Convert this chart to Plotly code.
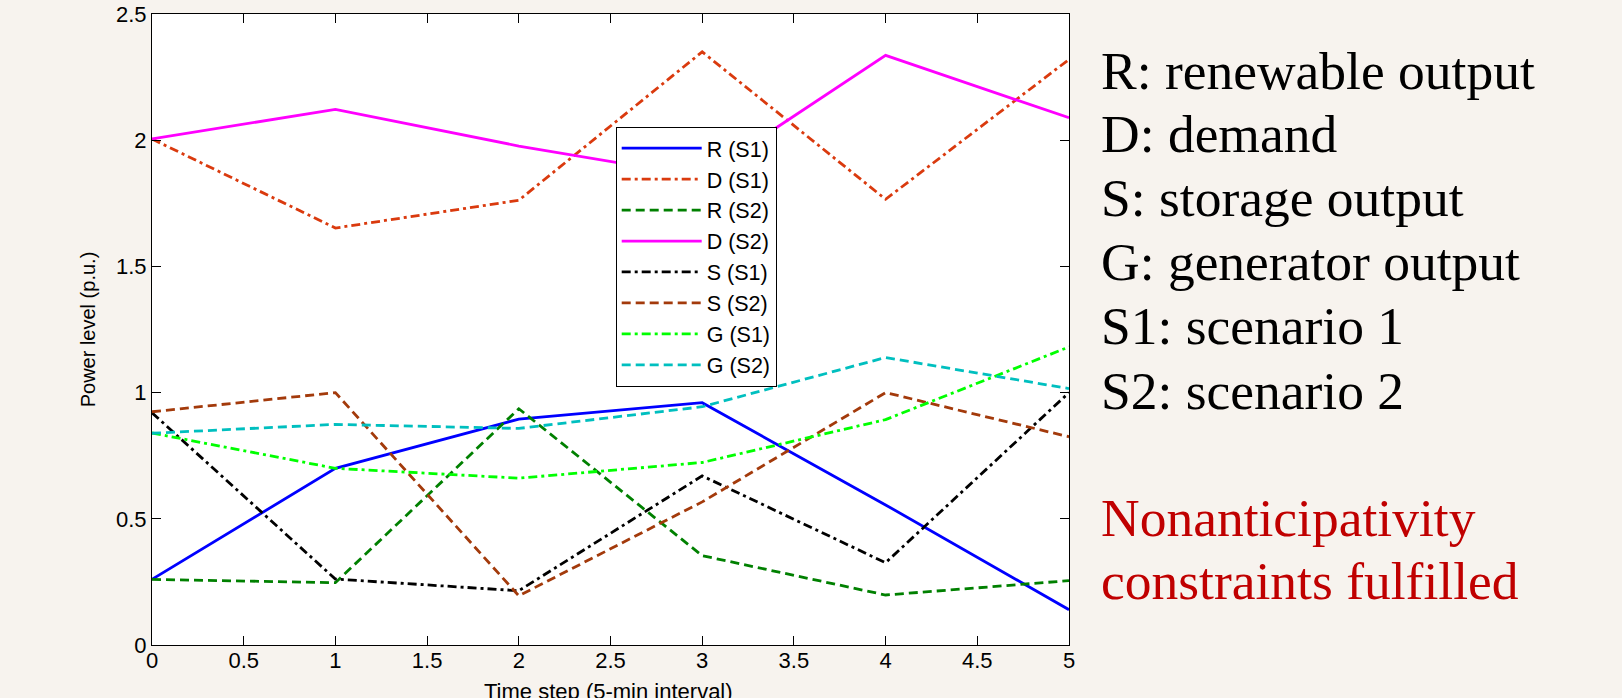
import plotly.graph_objects as go

# ---- data ----
time_step = [0, 1, 2, 3, 4, 5]
R_S1 = [0.26, 0.70, 0.895, 0.96, 0.555, 0.14]
D_S1 = [2.005, 1.652, 1.762, 2.35, 1.766, 2.32]
R_S2 = [0.26, 0.247, 0.936, 0.354, 0.198, 0.255]
D_S2 = [2.005, 2.122, 1.977, 1.855, 2.336, 2.089]
S_S1 = [0.92, 0.261, 0.215, 0.67, 0.326, 1.0]
S_S2 = [0.924, 1.0, 0.195, 0.567, 1.0, 0.825]
G_S1 = [0.84, 0.70, 0.661, 0.723, 0.893, 1.181]
G_S2 = [0.839, 0.874, 0.858, 0.944, 1.139, 1.016]

series_names = ["R (S1)", "D (S1)", "R (S2)", "D (S2)", "S (S1)", "S (S2)", "G (S1)", "G (S2)"]
series_values = [R_S1, D_S1, R_S2, D_S2, S_S1, S_S2, G_S1, G_S2]

x_ticks = [0, 0.5, 1, 1.5, 2, 2.5, 3, 3.5, 4, 4.5, 5]
y_ticks = [0, 0.5, 1, 1.5, 2, 2.5]

x_title = "Time step (5-min interval)"
y_title = "Power level (p.u.)"
notes = ["R: renewable output", "D: demand", "S: storage output",
         "G: generator output", "S1: scenario 1", "S2: scenario 2"]
remark = ["Nonanticipativity", "constraints fulfilled"]

# ---- styles / layout constants ----
DASHDOT = "9px,4px,3px,4px"
DASHED = "9px,5px"
styles = [
    dict(color="#0000FF", dash="solid"),
    dict(color="#DA3A0E", dash=DASHDOT),
    dict(color="#008000", dash=DASHED),
    dict(color="#FF00FF", dash="solid"),
    dict(color="#000000", dash=DASHDOT),
    dict(color="#A33A0B", dash=DASHED),
    dict(color="#00FF00", dash=DASHDOT),
    dict(color="#00BFBF", dash=DASHED),
]

PLOT_L, PLOT_T, PLOT_W, PLOT_H = 152, 14, 917, 631
SANS = "Liberation Sans, Arial"
SERIF = "Liberation Serif, Times New Roman"
TICK_FONT = dict(family=SANS, size=22, color="black")


def px_x(px):
    return (px - PLOT_L) / PLOT_W


def px_y(py):
    return (PLOT_T + PLOT_H - py) / PLOT_H


fig = go.Figure()
for name, vals, st in zip(series_names, series_values, styles):
    fig.add_trace(go.Scatter(
        x=time_step, y=vals, mode="lines", name=name, legendgroup=name,
        line=dict(color=st["color"], dash=st["dash"], width=2.8),
    ))

BG = "#F7F3EE"

fig.update_layout(
    width=1622, height=698,
    paper_bgcolor=BG, plot_bgcolor="white",
    font=dict(family=SANS, size=22, color="black"),
    margin=dict(l=PLOT_L, r=1622 - PLOT_L - PLOT_W, t=PLOT_T, b=698 - PLOT_T - PLOT_H,
                autoexpand=False),
    showlegend=True,
    legend=dict(
        x=px_x(615.7), y=px_y(126.7), xanchor="left", yanchor="top",
        bgcolor="white", bordercolor="black", borderwidth=1,
        font=dict(family=SANS, size=21.5, color="black"),
        tracegroupgap=0, itemwidth=80, traceorder="grouped",
    ),
)
fig.update_xaxes(
    range=[0, 5], tickmode="array", tickvals=x_ticks, ticklabelstandoff=-4,
    showgrid=False, zeroline=False, showline=True, linecolor="black", linewidth=1,
    mirror="ticks", ticks="inside", ticklen=9, tickcolor="black", tickwidth=1,
    tickfont=TICK_FONT,
)
fig.update_yaxes(
    range=[0, 2.5], tickmode="array", tickvals=y_ticks,
    showgrid=False, zeroline=False, showline=True, linecolor="black", linewidth=1,
    mirror="ticks", ticks="inside", ticklen=9, tickcolor="black", tickwidth=1,
    tickfont=TICK_FONT,
    title=dict(text=y_title, standoff=15,
               font=dict(family=SANS, size=20, color="black")),
)

# x-axis title sits partly below the page edge in the reference (cut off)
fig.add_annotation(
    xref="paper", yref="paper", x=px_x(608), y=px_y(699 - 0.33 * 22),
    xanchor="center", yanchor="middle", showarrow=False,
    text=x_title, font=dict(family=SANS, size=22, color="black"),
)

NOTE_SIZE = 53.5
note_baselines = [88.3, 151.7, 215.7, 279.3, 344.0, 408.3]
for txt, base in zip(notes, note_baselines):
    fig.add_annotation(
        xref="paper", yref="paper", x=px_x(1099), y=px_y(base - 0.33 * NOTE_SIZE),
        xanchor="left", yanchor="middle", align="left", showarrow=False,
        text=txt, font=dict(family=SERIF, size=NOTE_SIZE, color="black"),
    )
remark_baselines = [535.7, 599.0]
for txt, base in zip(remark, remark_baselines):
    fig.add_annotation(
        xref="paper", yref="paper", x=px_x(1099), y=px_y(base - 0.33 * NOTE_SIZE),
        xanchor="left", yanchor="middle", align="left", showarrow=False,
        text=txt, font=dict(family=SERIF, size=NOTE_SIZE, color="#C00000"),
    )

fig.write_html("out.html")
